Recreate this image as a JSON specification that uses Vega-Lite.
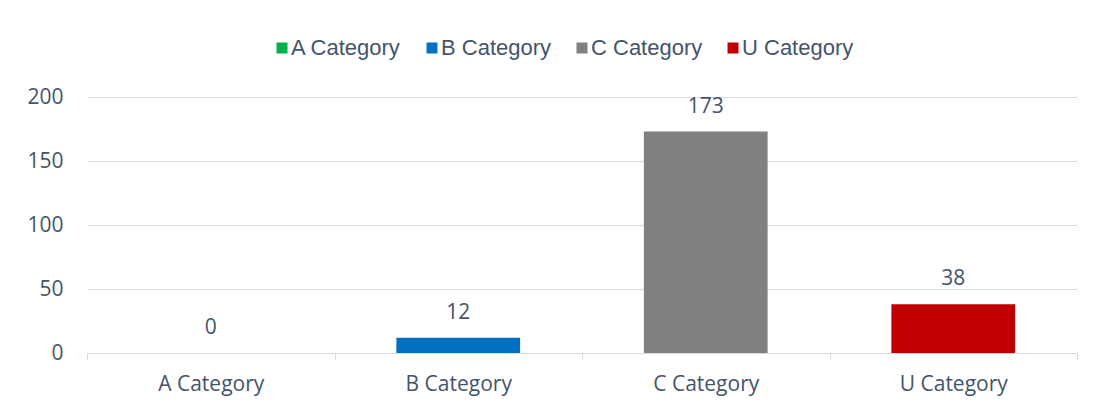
{
  "$schema": "https://vega.github.io/schema/vega-lite/v6.json",
  "width": 990,
  "height": 256,
  "autosize": {"type": "none"},
  "padding": {"left": 87, "top": 97, "right": 24, "bottom": 55},
  "background": "white",
  "data": {
    "values": [
      {"category": "A Category", "value": 0},
      {"category": "B Category", "value": 12},
      {"category": "C Category", "value": 173},
      {"category": "U Category", "value": 38}
    ]
  },
  "encoding": {
    "x": {
      "field": "category",
      "type": "nominal",
      "sort": null,
      "scale": {"paddingInner": 0, "paddingOuter": 0},
      "axis": {
        "title": null,
        "labelAngle": 0,
        "tickBand": "extent",
        "domainColor": "#D9D9D9",
        "tickColor": "#D9D9D9",
        "tickSize": 7,
        "labelPadding": 13,
        "labelFont": "Open Sans",
        "labelFontSize": 21,
        "labelColor": "#44546A",
        "grid": false
      }
    },
    "y": {
      "field": "value",
      "type": "quantitative",
      "scale": {"domain": [0, 200]},
      "axis": {
        "title": null,
        "values": [0, 50, 100, 150, 200],
        "domain": false,
        "ticks": false,
        "labelPadding": 24,
        "labelFont": "Open Sans",
        "labelFontSize": 21,
        "labelColor": "#44546A",
        "gridColor": "#D9D9D9",
        "gridWidth": 1
      }
    }
  },
  "layer": [
    {
      "mark": {"type": "bar", "width": {"band": 0.5}},
      "encoding": {
        "color": {
          "field": "category",
          "type": "nominal",
          "scale": {
            "domain": ["A Category", "B Category", "C Category", "U Category"],
            "range": ["#00B050", "#0070C0", "#808080", "#C00000"]
          },
          "legend": {
            "title": null,
            "orient": "none",
            "direction": "horizontal",
            "legendX": 184,
            "legendY": -60,
            "padding": 0,
            "symbolType": "square",
            "symbolSize": 121,
            "symbolStrokeWidth": 0,
            "symbolOpacity": 1,
            "labelOffset": -2,
            "columnPadding": 19,
            "labelFont": "Liberation Sans",
            "labelFontSize": 22,
            "labelColor": "#44546A",
            "labelLimit": 300
          }
        }
      }
    },
    {
      "mark": {
        "type": "text",
        "baseline": "middle",
        "dy": -25,
        "font": "Open Sans",
        "fontSize": 21,
        "color": "#44546A"
      },
      "encoding": {"text": {"field": "value", "type": "quantitative"}}
    }
  ],
  "config": {"view": {"stroke": null}}
}
